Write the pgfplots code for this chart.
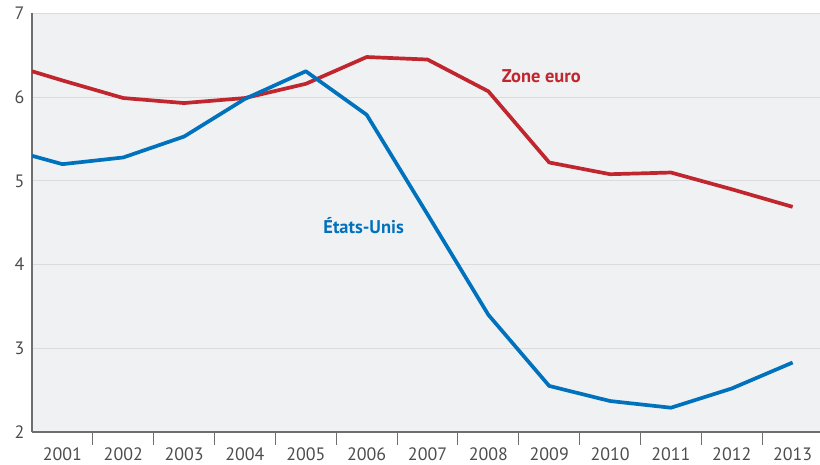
\documentclass[border=0pt]{standalone}
\usepackage{pgfplots}
\pgfplotsset{compat=1.18}
\usepackage{fontspec}
\setmainfont{PT Sans}
\definecolor{euro}{HTML}{C0262D}
\definecolor{us}{HTML}{0071BC}
\definecolor{bg}{HTML}{F0F1F3}
\definecolor{gridc}{HTML}{DADBDE}
\definecolor{axisc}{HTML}{6E6E6E}
\definecolor{ticklab}{HTML}{4D4D4D}
\begin{document}
\begin{tikzpicture}
\begin{axis}[name=ax, at={(0,0)}, anchor=south west,
  width=788bp, height=418.5bp, scale only axis,
  xmin=2000.5, xmax=2013.45, ymin=2, ymax=7,
  axis x line*=bottom, axis y line*=left,
  axis line style={-, axisc, line width=1.5bp},
  y axis line style={line width=2bp},
  axis background/.style={fill=bg},
  ymajorgrids, grid style={gridc, line width=1bp},
  ytick={2,3,4,5,6,7},
  xtick={2001,2002,2003,2004,2005,2006,2007,2008,2009,2010,2011,2012,2013},
  /pgf/number format/assume math mode=true,
  /pgf/number format/1000 sep={},
  tick label style={font=\fontsize{18}{20}\selectfont, text=ticklab},
  major tick length=0pt,
  tick align=outside,
  xticklabel style={yshift=-12bp},
  yticklabel style={xshift=-4bp},
  extra x ticks={2001.5,2002.5,2003.5,2004.5,2005.5,2006.5,2007.5,2008.5,2009.5,2010.5,2011.5,2012.5},
  extra x tick labels={},
  extra x tick style={major tick length=13bp, tick style={axisc, line width=1bp}},
  clip=true,
]
\addplot[euro, line width=3.7bp, line join=round] coordinates {
 (2000.5,6.31) (2001,6.20) (2002,5.99) (2003,5.93) (2004,5.99) (2005,6.16)
 (2006,6.48) (2007,6.45) (2008,6.07) (2009,5.22) (2010,5.08) (2011,5.10)
 (2012,4.90) (2013,4.69)};
\addplot[us, line width=3.7bp, line join=round] coordinates {
 (2000.5,5.30) (2001,5.20) (2002,5.28) (2003,5.53) (2004,5.98) (2005,6.31)
 (2006,5.79) (2007,4.60) (2008,3.40) (2009,2.55) (2010,2.37) (2011,2.29)
 (2012,2.52) (2013,2.83)};
\node[font=\fontsize{18.5}{20}\selectfont\bfseries, text=euro] at (axis cs:2008.87,6.25) {Zone euro};
\node[font=\fontsize{18.5}{20}\selectfont\bfseries, text=us] at (axis cs:2005.95,4.46) {États-Unis};
\end{axis}
\pgfresetboundingbox
\path ([xshift=-32bp,yshift=-33bp]ax.south west) rectangle ([yshift=13.5bp]ax.north east);
\end{tikzpicture}
\end{document}
